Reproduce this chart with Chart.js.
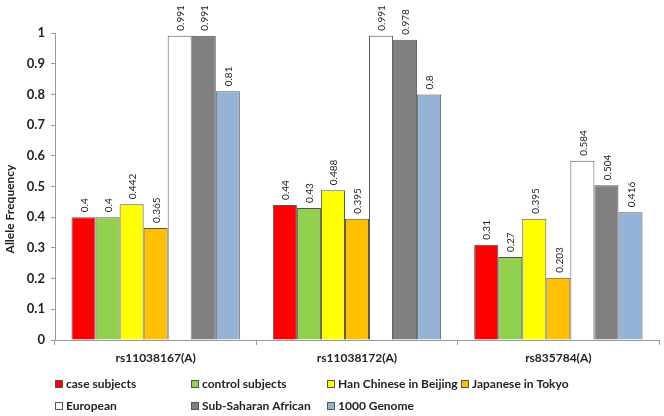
<!DOCTYPE html>
<html>
<head>
<meta charset="utf-8">
<script src="https://cdn.jsdelivr.net/npm/chart.js@4/dist/chart.umd.min.js"></script>
<style>
  html, body { margin: 0; padding: 0; background: #fff; }
  #wrap { width: 664px; height: 416px; }
</style>
</head>
<body>
<div id="wrap"><canvas id="alleleChart" width="664" height="416"></canvas></div>
<script>
// data
const categories = ['rs11038167(A)', 'rs11038172(A)', 'rs835784(A)'];
const groupNames = ['case subjects', 'control subjects', 'Han Chinese in Beijing', 'Japanese in Tokyo',
                    'European', 'Sub-Saharan African', '1000 Genome'];
const caseSubjects = [0.4, 0.44, 0.31];
const controlSubjects = [0.4, 0.43, 0.27];
const hanChinese = [0.442, 0.488, 0.395];
const japaneseTokyo = [0.365, 0.395, 0.203];
const european = [0.991, 0.991, 0.584];
const subSaharan = [0.991, 0.978, 0.504];
const genome1000 = [0.81, 0.8, 0.416];
const yTicks = [0, 0.1, 0.2, 0.3, 0.4, 0.5, 0.6, 0.7, 0.8, 0.9, 1];

const seriesValues = [caseSubjects, controlSubjects, hanChinese, japaneseTokyo, european, subSaharan, genome1000];
const seriesColors = ['#ff0000', '#92d050', '#ffff00', '#ffc000', '#ffffff', '#808080', '#95b3d7'];

const FONT = 'Lato, "Liberation Sans", Arial, sans-serif';

// rotated value labels above each bar
const valueLabels = {
    id: 'valueLabels',
    afterDatasetsDraw(chart) {
        const ctx = chart.ctx;
        ctx.save();
        ctx.font = '10px ' + FONT;
        ctx.fillStyle = '#222';
        ctx.textAlign = 'left';
        ctx.textBaseline = 'middle';
        chart.data.datasets.forEach((ds, i) => {
            chart.getDatasetMeta(i).data.forEach((bar, j) => {
                ctx.save();
                ctx.translate(bar.x + 1, bar.y - 5);
                ctx.rotate(-Math.PI / 2);
                ctx.fillText(String(ds.data[j]), 0, 0);
                ctx.restore();
            });
        });
        ctx.restore();
    }
};

// y title sits a bit below the middle in the original, so draw it by hand
const yTitle = {
    id: 'yTitle',
    afterDraw(chart) {
        const ctx = chart.ctx;
        ctx.save();
        ctx.font = 'bold 12px ' + FONT;
        ctx.fillStyle = '#222';
        ctx.textAlign = 'center';
        ctx.textBaseline = 'middle';
        ctx.translate(10, 209);
        ctx.rotate(-Math.PI / 2);
        ctx.fillText('Allele Frequency', 0, 0);
        ctx.restore();
    }
};

// legend in a fixed 4-column grid, like the original
const gridLegend = {
    id: 'gridLegend',
    afterDraw(chart) {
        const ctx = chart.ctx;
        const cols = [55, 191, 327, 461];
        const rows = [384, 406];
        ctx.save();
        ctx.font = 'bold 12px ' + FONT;
        ctx.textBaseline = 'middle';
        ctx.textAlign = 'left';
        chart.data.datasets.forEach((ds, i) => {
            const x = cols[i % 4];
            const y = rows[Math.floor(i / 4)];
            ctx.fillStyle = ds.backgroundColor;
            ctx.fillRect(x, y - 4, 8, 8);
            ctx.strokeStyle = '#555';
            ctx.lineWidth = 1;
            ctx.strokeRect(x + 0.5, y - 3.5, 7, 7);
            ctx.fillStyle = '#222';
            ctx.fillText(ds.label, x + 11, y);
        });
        ctx.restore();
    }
};

const ctx = document.getElementById('alleleChart').getContext('2d');
new Chart(ctx, {
    type: 'bar',
    data: {
        labels: categories,
        datasets: seriesValues.map((vals, i) => ({
            label: groupNames[i],
            data: vals,
            backgroundColor: seriesColors[i],
            borderColor: '#555555',
            borderWidth: 1,
            categoryPercentage: 0.836,
            barPercentage: 1
        }))
    },
    options: {
        responsive: false,
        animation: false,
        layout: { padding: { top: 33, right: 5, bottom: 0, left: 0 } },
        plugins: {
            legend: { display: false },
            tooltip: { enabled: false }
        },
        scales: {
            x: {
                grid: { drawOnChartArea: false, drawTicks: true, tickLength: 5, color: '#999' },
                border: { color: '#999' },
                ticks: {
                    font: { family: FONT, size: 12, weight: 'bold' },
                    color: '#222',
                    padding: 6
                },
                afterFit(scale) { scale.height = 76; }
            },
            y: {
                min: 0,
                max: 1,
                afterBuildTicks(scale) { scale.ticks = yTicks.map(v => ({ value: v })); },
                grid: { drawOnChartArea: false, drawTicks: true, tickLength: 4, color: '#999' },
                border: { color: '#999' },
                ticks: {
                    font: { family: FONT, size: 13, weight: 'bold' },
                    color: '#222',
                    padding: 6,
                    callback: v => String(v)
                },
                afterFit(scale) { scale.width = 55; }
            }
        }
    },
    plugins: [valueLabels, yTitle, gridLegend]
});
</script>
</body>
</html>
